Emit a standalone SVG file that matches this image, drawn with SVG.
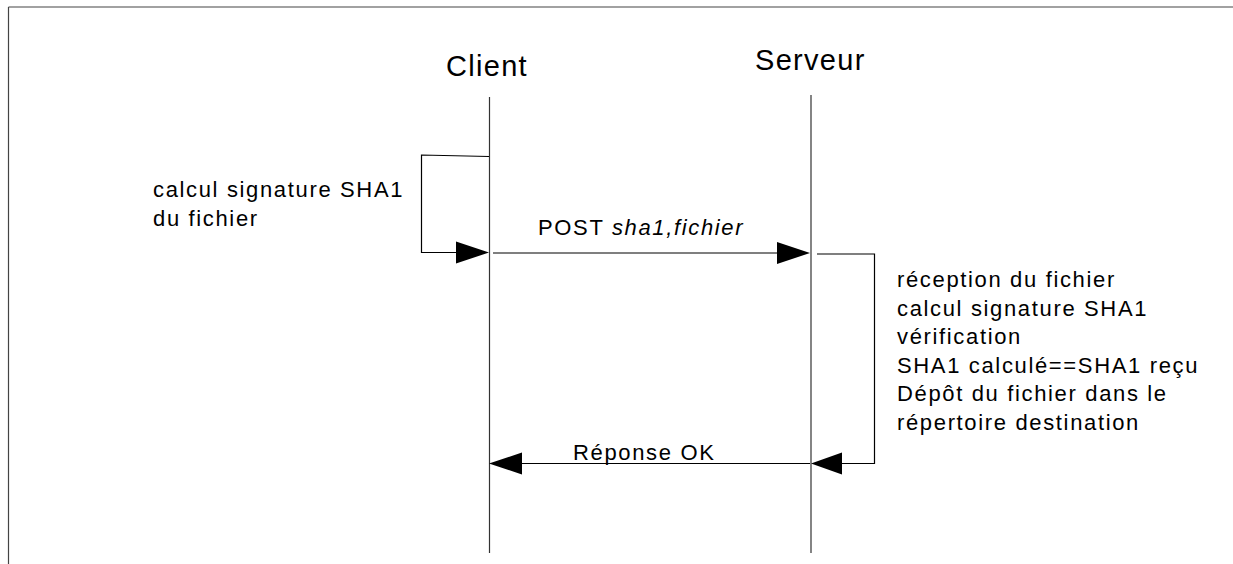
<svg xmlns="http://www.w3.org/2000/svg" width="1233" height="564" viewBox="0 0 1233 564">
  <style>
    .frame { fill: none; stroke: #444; stroke-width: 1.2; }
    .life { fill: none; stroke: #333; stroke-width: 1.2; }
    .msg { fill: none; stroke: #000; stroke-width: 1.2; }
    .head { fill: #000; stroke: none; }
    .title { font-family: "Liberation Sans", Arial, sans-serif; font-size: 29px; letter-spacing: 1.3px; fill: #000; }
    .lbl { font-family: "Liberation Sans", Arial, sans-serif; font-size: 22px; letter-spacing: 1.65px; fill: #000; }
  </style>
  <rect x="0" y="0" width="1233" height="564" fill="#fff"/>

  <!-- page frame -->
  <g id="frame">
    <line class="frame" x1="8.5" y1="7" x2="1233" y2="7"/>
    <line class="frame" x1="8.5" y1="7" x2="8.5" y2="564"/>
  </g>

  <!-- lifelines -->
  <g id="client">
    <text class="title" x="446" y="76">Client</text>
    <line class="life" x1="489.5" y1="97" x2="489.5" y2="553"/>
  </g>
  <g id="serveur">
    <text class="title" x="755" y="70">Serveur</text>
    <line class="life" x1="811" y1="95" x2="811" y2="553" stroke="#555"/>
  </g>

  <!-- notes -->
  <g id="note-client">
    <text class="lbl" x="153" y="197">calcul signature SHA1</text>
    <text class="lbl" x="153" y="226">du fichier</text>
  </g>
  <g id="note-serveur">
    <text class="lbl" x="897" y="287">réception du fichier</text>
    <text class="lbl" x="897" y="315.5">calcul signature SHA1</text>
    <text class="lbl" x="897" y="344">vérification</text>
    <text class="lbl" x="897" y="372.5">SHA1 calculé==SHA1 reçu</text>
    <text class="lbl" x="897" y="401">Dépôt du fichier dans le</text>
    <text class="lbl" x="897" y="429.5">répertoire destination</text>
  </g>

  <!-- messages -->
  <g id="connectors">
    <!-- self call on client -->
    <polyline class="msg" points="489,156.5 421.5,155 421.5,252.5 456,252.5"/>
    <polygon class="head" points="456,241.5 489,252.5 456,263.5"/>

    <!-- POST request -->
    <line class="msg" x1="493" y1="253" x2="778" y2="253"/>
    <polygon class="head" points="777,242 810,253 777,264"/>
    <text class="lbl" x="538" y="235">POST <tspan font-style="italic">sha1,fichier</tspan></text>

    <!-- server processing loop -->
    <polyline class="msg" points="817,254 874.5,254 874.5,463.5 842,463.5"/>
    <polygon class="head" points="842,452.5 811,463.5 842,474.5"/>

    <!-- response -->
    <line class="msg" x1="810" y1="463.5" x2="521" y2="463.5"/>
    <polygon class="head" points="522,452.5 489,463.5 522,474.5"/>
    <text class="lbl" x="573" y="460">Réponse OK</text>
  </g>
</svg>
